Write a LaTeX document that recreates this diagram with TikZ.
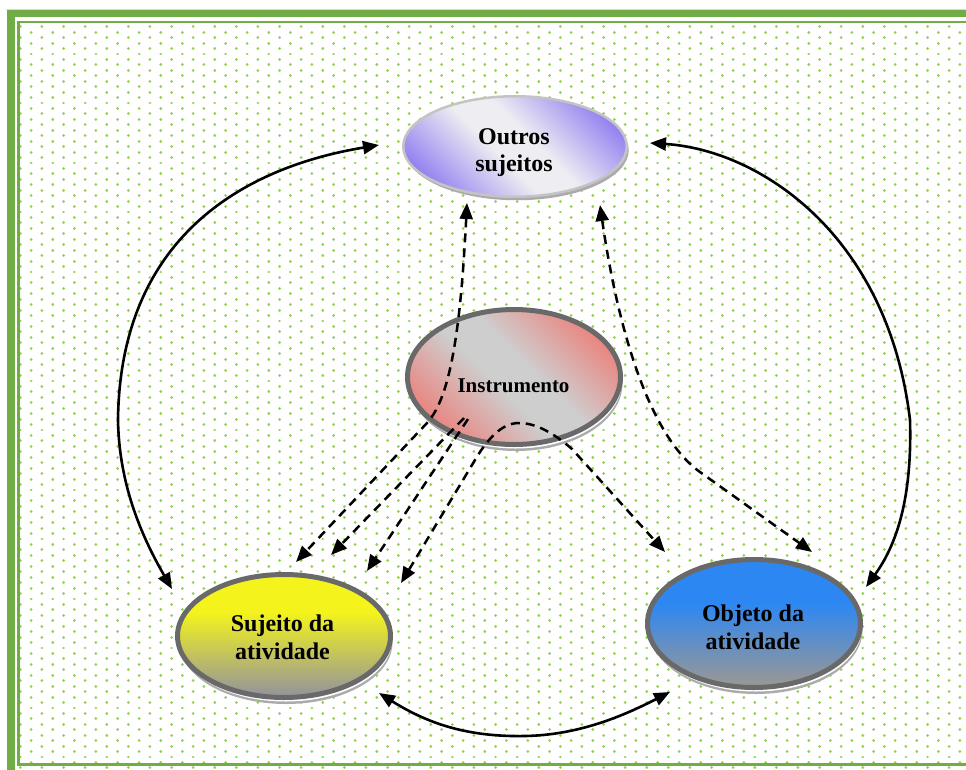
\documentclass[tikz,border=0pt]{standalone}
\usepackage{fontspec}
\setmainfont{Liberation Serif}
\usetikzlibrary{arrows.meta,shapes.geometric,shadows}

\definecolor{bandgreen}{HTML}{70AD47}
\definecolor{dotgreen}{HTML}{92D050}
\definecolor{lav}{HTML}{9584F0}
\definecolor{lavpale}{HTML}{EEEEF2}
\definecolor{salmon}{HTML}{EC7F7A}
\definecolor{pearl}{HTML}{CECECE}
\definecolor{lemon}{HTML}{F4F41C}
\definecolor{skyblue}{HTML}{2D87F2}
\definecolor{ash}{HTML}{979797}
\definecolor{rim}{HTML}{696969}
\definecolor{softrim}{HTML}{C4C4C4}
\definecolor{shadowgray}{HTML}{ABABAB}
\definecolor{hairgray}{HTML}{D9D9D9}

% fills of the four ellipses
\pgfdeclarehorizontalshading{lavdiag}{100bp}{color(0bp)=(lav); color(24bp)=(lav); color(45bp)=(lavpale); color(55bp)=(lavpale); color(76bp)=(lav); color(100bp)=(lav)}
\pgfdeclarehorizontalshading{salmondiag}{100bp}{color(0bp)=(salmon); color(23bp)=(salmon); color(45bp)=(pearl); color(55bp)=(pearl); color(77bp)=(salmon); color(100bp)=(salmon)}
\pgfdeclareverticalshading{lemonfade}{100bp}{color(0bp)=(ash); color(27bp)=(ash); color(60bp)=(lemon); color(100bp)=(lemon)}
\pgfdeclareverticalshading{bluefade}{100bp}{color(0bp)=(ash); color(27bp)=(ash); color(58bp)=(skyblue); color(100bp)=(skyblue)}

\tikzset{
  bigtip/.tip={Triangle[length=16pt,width=13pt]},
  dotrow/.style={dotgreen, line width=2.9pt, line cap=round, dash pattern=on 0.1pt off 21.5pt},
  bubble/.style={ellipse, inner sep=0pt, outer sep=0pt, shade},
  heavyrim/.style={draw=rim, line width=5pt,
    drop shadow={shadow xshift=2pt, shadow yshift=-6.5pt, fill=shadowgray, opacity=1},
    drop shadow={shadow xshift=1.5pt, shadow yshift=-4pt, fill=white, opacity=1}},
  lightrim/.style={draw=softrim, line width=2.5pt,
    drop shadow={shadow xshift=2pt, shadow yshift=-3.5pt, fill=shadowgray, opacity=1}},
  nodetext/.style={align=center, inner sep=0pt, text=black,
    font=\bfseries\fontsize{24}{27.5}\selectfont},
  link/.style={line width=2.6pt, black},
  dlink/.style={line width=2.5pt, black, dash pattern=on 9pt off 6pt},
}

\begin{document}
\begin{tikzpicture}[x=1pt,y=-1pt]
\useasboundingbox (0,0) rectangle (966,769);
\clip (0,0) rectangle (966,769);
\fill[white] (0,0) rectangle (966,769);

% dotted ground
\foreach \k in {0,...,137}{
  \pgfmathsetmacro\yy{26.7+5.45*\k}
  \pgfmathsetmacro\xx{20.3+10.8*mod(\k,2)}
  \draw[dotrow] (\xx,\yy) -- (980,\yy);
}

% page border
\draw[hairgray, line width=0.8pt] (6,9.2) -- (1000,9.2);
\draw[bandgreen, line width=7.5pt] (10.8,800) -- (10.8,13.5) -- (1000,13.5);
\draw[bandgreen, line width=2.7pt] (1000,22) -- (18.7,22) -- (18.7,764.6) -- (1000,764.6);

% ellipses
\node[bubble, lightrim, shading=lavdiag, shading angle=45,
      minimum width=223.5pt, minimum height=100.5pt] (outros) at (515,146.5) {};
\node[bubble, heavyrim, shading=salmondiag, shading angle=45,
      minimum width=213pt, minimum height=135pt] (instr) at (514,377) {};
\node[bubble, heavyrim, shading=lemonfade,
      minimum width=213pt, minimum height=123pt] (sujeito) at (284,636) {};
\node[bubble, heavyrim, shading=bluefade,
      minimum width=213pt, minimum height=128pt] (objeto) at (754,623.5) {};

% connector end points
\coordinate (os-w) at (379,145);
\coordinate (sj-nw) at (172,589);
\coordinate (os-e) at (650,143);
\coordinate (ob-ne) at (866,587);
\coordinate (sj-se) at (379,693);
\coordinate (ob-sw) at (670,692);
\coordinate (os-s1) at (467,203);
\coordinate (sj-n1) at (296,562);
\coordinate (in-a) at (464,418);
\coordinate (sj-n2) at (331,555);
\coordinate (in-b) at (468,419);
\coordinate (sj-n3) at (367,571);
\coordinate (sj-n4) at (401,583);
\coordinate (ob-n1) at (665,552);
\coordinate (os-s2) at (600,205);
\coordinate (ob-n2) at (812,552);

% solid two-way links
\draw[link, bigtip-bigtip] (os-w) .. controls (240,168) and (120,240) .. (118,420)
      .. controls (119,475) and (135,525) .. (sj-nw);
\draw[link, bigtip-bigtip] (os-e) .. controls (760,150) and (888,235) .. (910,420)
      .. controls (912,490) and (900,540) .. (ob-ne);
\draw[link, bigtip-bigtip] (sj-se) .. controls (430,725) and (470,737) .. (525,736)
      .. controls (580,735) and (625,715) .. (ob-sw);

% dashed links through the instrument
\draw[dlink, bigtip-bigtip] (os-s1) .. controls (461,320) and (452,396) .. (427,423) -- (sj-n1);
\draw[dlink, -bigtip] (in-a) -- (sj-n2);
\draw[dlink, -bigtip] (in-b) -- (sj-n3);
\draw[dlink, bigtip-bigtip] (sj-n4) -- (478,455) .. controls (494,430) and (508,422) .. (521,423)
      .. controls (540,424) and (558,437) .. (572,449) -- (ob-n1);
\draw[dlink, bigtip-bigtip] (os-s2) .. controls (615,310) and (644,432) .. (700,472) -- (ob-n2);

% labels
\node[nodetext] (outros-t) at (514,152.5) {Outros\\sujeitos};
\node[nodetext, font=\bfseries\fontsize{21}{24}\selectfont] (instr-t) at (513.5,386) {Instrumento};
\node[nodetext] (sujeito-t) at (282.5,637.5) {Sujeito da\\atividade};
\node[nodetext] (objeto-t) at (753,627.5) {Objeto da\\atividade};
\end{tikzpicture}
\end{document}
